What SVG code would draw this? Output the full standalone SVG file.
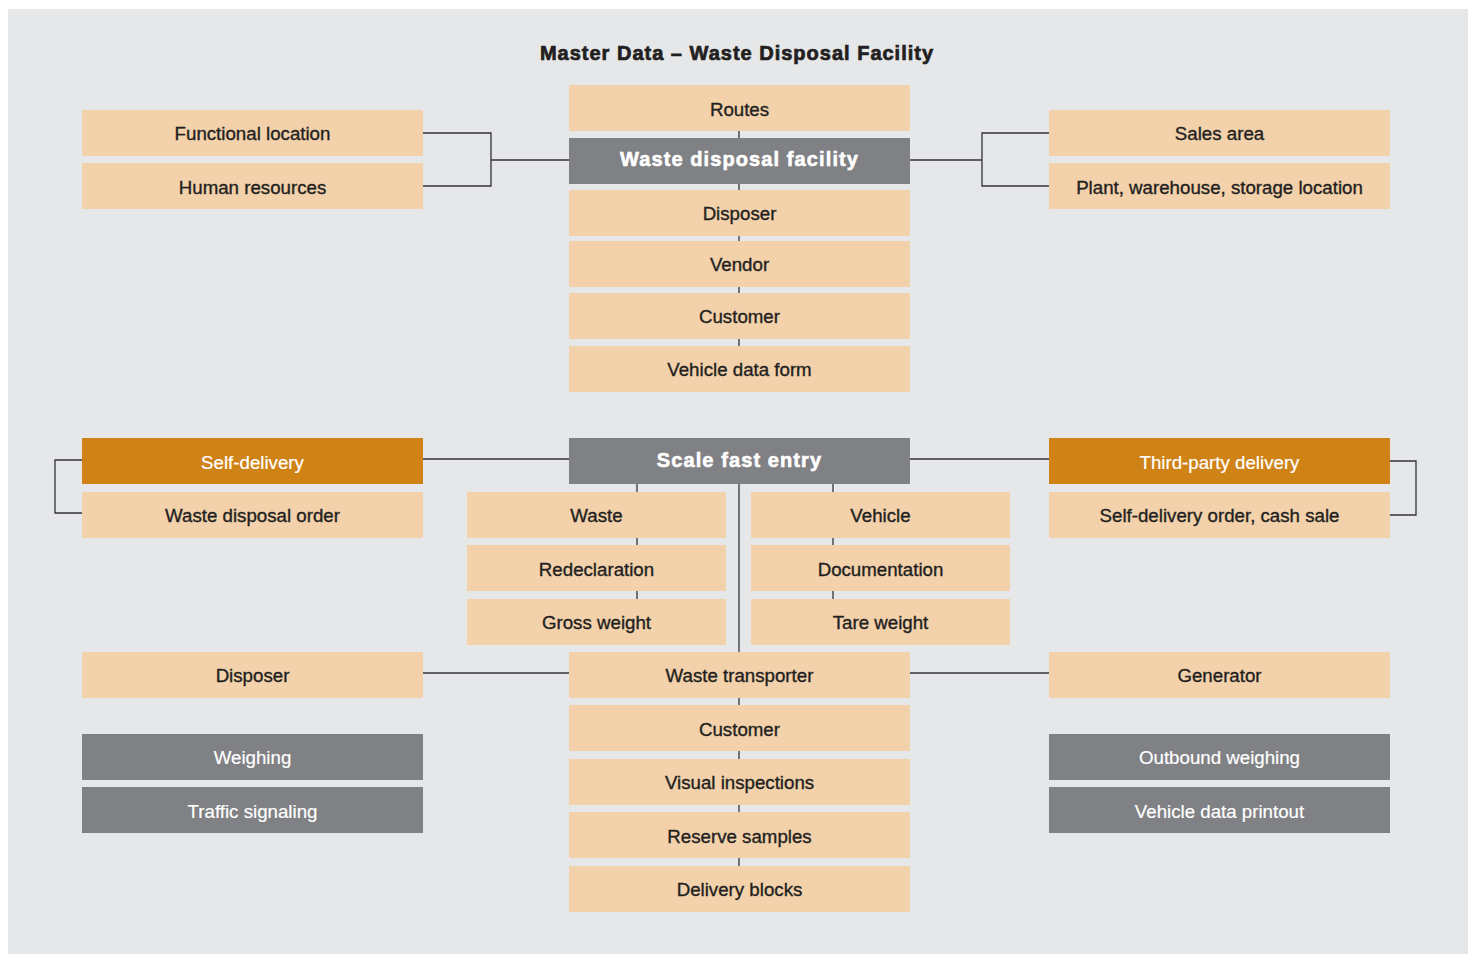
<svg xmlns="http://www.w3.org/2000/svg" width="1474" height="954" viewBox="0 0 1474 954">
<style>
.bg{fill:#E6E7E9}
.p{fill:#F2D1AB}
.g{fill:#808184}
.o{fill:#CF8215}
text{font-family:"Liberation Sans",Arial,sans-serif;font-size:18.7px;text-anchor:middle;fill:#231F20;stroke:#231F20;stroke-width:0.35}
.w{fill:#FFFFFF;stroke:#FFFFFF;stroke-width:0.2}
.h{font-weight:bold;font-size:20px;fill:#FFFFFF;stroke:#FFFFFF;stroke-width:0.6;letter-spacing:1.1px}
.t{font-weight:bold;font-size:20px;fill:#231F20;stroke:#231F20;stroke-width:0.7;letter-spacing:1px}
.c line,.c polyline{stroke:#333335;stroke-width:1.3;fill:none}
</style>
<rect x="0" y="0" width="1474" height="954" fill="#FFFFFF"/>
<rect class="bg" x="8" y="9" width="1460" height="945"/>
<text class="t" x="737" y="60">Master Data – Waste Disposal Facility</text>

<g class="c" id="connectors">
<polyline points="423,133 491,133 491,186 423,186"/>
<line x1="491" y1="160" x2="569" y2="160"/>
<polyline points="1049,133 982,133 982,186 1049,186"/>
<line x1="910" y1="160" x2="982" y2="160"/>
<line x1="739" y1="131" x2="739" y2="138"/>
<line x1="739" y1="184" x2="739" y2="190"/>
<line x1="739" y1="236" x2="739" y2="241"/>
<line x1="739" y1="287" x2="739" y2="293"/>
<line x1="739" y1="339" x2="739" y2="346"/>
<line x1="423" y1="459" x2="569" y2="459"/>
<line x1="910" y1="459" x2="1049" y2="459"/>
<polyline points="82,460 55,460 55,513 82,513"/>
<polyline points="1390,461 1416,461 1416,515 1390,515"/>
<line x1="739" y1="484" x2="739" y2="652"/>
<line x1="637" y1="484" x2="637" y2="492"/>
<line x1="637" y1="538" x2="637" y2="545"/>
<line x1="637" y1="591" x2="637" y2="599"/>
<line x1="833" y1="484" x2="833" y2="492"/>
<line x1="833" y1="538" x2="833" y2="545"/>
<line x1="833" y1="591" x2="833" y2="599"/>
<line x1="423" y1="673" x2="569" y2="673"/>
<line x1="910" y1="673" x2="1049" y2="673"/>
<line x1="739" y1="698" x2="739" y2="705"/>
<line x1="739" y1="751" x2="739" y2="759"/>
<line x1="739" y1="805" x2="739" y2="812"/>
<line x1="739" y1="858" x2="739" y2="866"/>
</g>

<g id="routes"><rect class="p" x="569" y="85" width="341" height="46"/><text x="739.5" y="116">Routes</text></g>
<g id="wdf"><rect class="g" x="569" y="138" width="341" height="46"/><text class="h" x="739.5" y="166">Waste disposal facility</text></g>
<g id="disposer1"><rect class="p" x="569" y="190" width="341" height="46"/><text x="739.5" y="220">Disposer</text></g>
<g id="vendor"><rect class="p" x="569" y="241" width="341" height="46"/><text x="739.5" y="271">Vendor</text></g>
<g id="customer1"><rect class="p" x="569" y="293" width="341" height="46"/><text x="739.5" y="323">Customer</text></g>
<g id="vdf"><rect class="p" x="569" y="346" width="341" height="46"/><text x="739.5" y="376">Vehicle data form</text></g>

<g id="funcloc"><rect class="p" x="82" y="110" width="341" height="46"/><text x="252.5" y="140">Functional location</text></g>
<g id="hr"><rect class="p" x="82" y="163" width="341" height="46"/><text x="252.5" y="194">Human resources</text></g>
<g id="sales"><rect class="p" x="1049" y="110" width="341" height="46"/><text x="1219.5" y="140">Sales area</text></g>
<g id="plant"><rect class="p" x="1049" y="163" width="341" height="46"/><text x="1219.5" y="194">Plant, warehouse, storage location</text></g>

<g id="selfdel"><rect class="o" x="82" y="438" width="341" height="46"/><text class="w" x="252.5" y="469">Self-delivery</text></g>
<g id="wdo"><rect class="p" x="82" y="492" width="341" height="46"/><text x="252.5" y="522">Waste disposal order</text></g>
<g id="sfe"><rect class="g" x="569" y="438" width="341" height="46"/><text class="h" x="739.5" y="467">Scale fast entry</text></g>
<g id="tpd"><rect class="o" x="1049" y="438" width="341" height="46"/><text class="w" x="1219.5" y="469">Third-party delivery</text></g>
<g id="sdo"><rect class="p" x="1049" y="492" width="341" height="46"/><text x="1219.5" y="522">Self-delivery order, cash sale</text></g>

<g id="waste"><rect class="p" x="467" y="492" width="259" height="46"/><text x="596.5" y="522">Waste</text></g>
<g id="redecl"><rect class="p" x="467" y="545" width="259" height="46"/><text x="596.5" y="576">Redeclaration</text></g>
<g id="gross"><rect class="p" x="467" y="599" width="259" height="46"/><text x="596.5" y="629">Gross weight</text></g>
<g id="vehicle"><rect class="p" x="751" y="492" width="259" height="46"/><text x="880.5" y="522">Vehicle</text></g>
<g id="doc"><rect class="p" x="751" y="545" width="259" height="46"/><text x="880.5" y="576">Documentation</text></g>
<g id="tare"><rect class="p" x="751" y="599" width="259" height="46"/><text x="880.5" y="629">Tare weight</text></g>

<g id="disposer2"><rect class="p" x="82" y="652" width="341" height="46"/><text x="252.5" y="682">Disposer</text></g>
<g id="transporter"><rect class="p" x="569" y="652" width="341" height="46"/><text x="739.5" y="682">Waste transporter</text></g>
<g id="generator"><rect class="p" x="1049" y="652" width="341" height="46"/><text x="1219.5" y="682">Generator</text></g>
<g id="customer2"><rect class="p" x="569" y="705" width="341" height="46"/><text x="739.5" y="736">Customer</text></g>
<g id="visual"><rect class="p" x="569" y="759" width="341" height="46"/><text x="739.5" y="789">Visual inspections</text></g>
<g id="reserve"><rect class="p" x="569" y="812" width="341" height="46"/><text x="739.5" y="843">Reserve samples</text></g>
<g id="blocks"><rect class="p" x="569" y="866" width="341" height="46"/><text x="739.5" y="896">Delivery blocks</text></g>

<g id="weighing"><rect class="g" x="82" y="734" width="341" height="46"/><text class="w" x="252.5" y="764">Weighing</text></g>
<g id="traffic"><rect class="g" x="82" y="787" width="341" height="46"/><text class="w" x="252.5" y="818">Traffic signaling</text></g>
<g id="outbound"><rect class="g" x="1049" y="734" width="341" height="46"/><text class="w" x="1219.5" y="764">Outbound weighing</text></g>
<g id="printout"><rect class="g" x="1049" y="787" width="341" height="46"/><text class="w" x="1219.5" y="818">Vehicle data printout</text></g>
</svg>
